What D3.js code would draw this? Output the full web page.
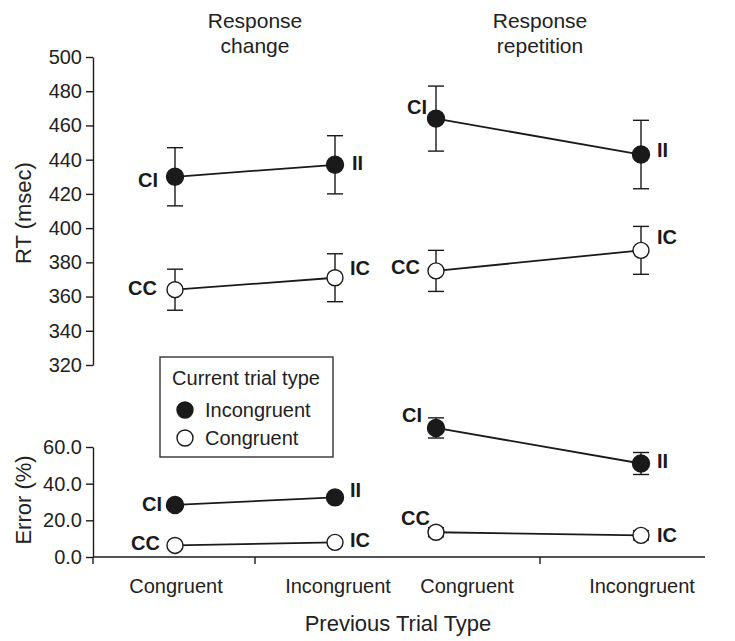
<!DOCTYPE html>
<html>
<head>
<meta charset="utf-8">
<script src="https://cdn.jsdelivr.net/npm/d3@7"></script>
<style>
  html, body { margin: 0; padding: 0; background: #fff; }
  svg { display: block; font-family: "Liberation Sans", Arial, Helvetica, sans-serif; }
</style>
</head>
<body>
<svg id="chart" width="735" height="641"></svg>
<script>
// ---------- DATA ----------
const previousTrialTypes = ["Congruent", "Incongruent"];
const panelTitles = [["Response", "change"], ["Response", "repetition"]];
const legendTitle = "Current trial type";
const legendLabels = ["Incongruent", "Congruent"];

const rtTicks = [320, 340, 360, 380, 400, 420, 440, 460, 480, 500];
const errTicks = [0, 20, 40, 60];

// RT (msec): current incongruent / congruent, per panel (change, repetition)
const rtChangeIncong   = [430, 437];
const rtChangeIncongSE = [17, 17];
const rtChangeCong     = [364, 371];
const rtChangeCongSE   = [12, 14];
const rtRepIncong      = [464, 443];
const rtRepIncongSE    = [19, 20];
const rtRepCong        = [375, 387];
const rtRepCongSE      = [12, 14];

// Error (%)
const errChangeIncong   = [28.4, 32.5];
const errChangeIncongSE = [1.5, 1.5];
const errChangeCong     = [6.3, 8.0];
const errChangeCongSE   = [1.0, 1.0];
const errRepIncong      = [70.4, 51.0];
const errRepIncongSE    = [5.5, 6.0];
const errRepCong        = [13.5, 11.8];
const errRepCongSE      = [2.5, 2.5];

const incongLabels = ["CI", "II"];
const congLabels   = ["CC", "IC"];

// ---------- LAYOUT ----------
const svg = d3.select("#chart");
const ink = "#1a1a1a";
const axisX = 93;

const yRT  = d3.scaleLinear().domain([320, 500]).range([365, 57]);
const yErr = d3.scaleLinear().domain([0, 60]).range([557, 447]);

const xPanels = [
  d3.scalePoint().domain(previousTrialTypes).range([175, 335]),
  d3.scalePoint().domain(previousTrialTypes).range([436, 641])
];
const xLabelPanels = [
  d3.scalePoint().domain(previousTrialTypes).range([176, 338]),
  d3.scalePoint().domain(previousTrialTypes).range([467, 642])
];
const panelMid = [255, 540];

// label placement (dx, dy, anchor) per panel/metric/series/point
const labelPlacement = {
  rt: [
    { inc: [[-17, 3, "end"], [17, -2, "start"]], con: [[-18, -2, "end"], [15, -10, "start"]] },
    { inc: [[-9, -12, "end"], [16, -5, "start"]], con: [[-16, -4, "end"], [16, -13, "start"]] }
  ],
  err: [
    { inc: [[-13, -1, "end"], [15, -7, "start"]], con: [[-15, -2, "end"], [15, -2, "start"]] },
    { inc: [[-14, -13, "end"], [16, -3, "start"]], con: [[-6, -14, "end"], [16, 0, "start"]] }
  ]
};

// ---------- AXES ----------
// RT axis
const gRT = svg.append("g").attr("transform", `translate(${axisX},0)`)
  .call(d3.axisLeft(yRT).tickValues(rtTicks).tickSize(7).tickPadding(4).tickSizeOuter(0));
// Error axis
const gErr = svg.append("g").attr("transform", `translate(${axisX},0)`)
  .call(d3.axisLeft(yErr).tickValues(errTicks).tickSize(7).tickPadding(4).tickSizeOuter(0)
    .tickFormat(d3.format(".1f")));
[gRT, gErr].forEach(g => {
  g.selectAll("path.domain").attr("stroke", ink).attr("stroke-width", 1.4);
  g.selectAll(".tick line").attr("stroke", ink).attr("stroke-width", 1.4);
  g.selectAll(".tick text").attr("fill", "#222").style("font-size", "20px");
});
// tick at error-axis bottom extends below baseline
svg.append("line").attr("x1", axisX).attr("x2", axisX)
  .attr("y1", yErr(0)).attr("y2", yErr(0) + 7).attr("stroke", ink).attr("stroke-width", 1.4);

// X axis baseline
svg.append("line").attr("x1", axisX).attr("x2", 705)
  .attr("y1", yErr(0)).attr("y2", yErr(0)).attr("stroke", ink).attr("stroke-width", 1.4);
panelMid.forEach(m => {
  svg.append("line").attr("x1", m).attr("x2", m)
    .attr("y1", yErr(0)).attr("y2", yErr(0) + 7).attr("stroke", ink).attr("stroke-width", 1.4);
});
xLabelPanels.forEach(xs => {
  svg.append("g").selectAll("text").data(previousTrialTypes).join("text")
    .attr("x", d => xs(d)).attr("y", 593)
    .attr("text-anchor", "middle").attr("fill", "#222")
    .style("font-size", "20px").text(d => d);
});
svg.append("text").attr("x", 398).attr("y", 631).attr("text-anchor", "middle")
  .attr("fill", "#222").style("font-size", "22px").text("Previous Trial Type");

// Y titles
svg.append("text").attr("transform", `translate(31,${(yRT(320)+yRT(500))/2 + 2}) rotate(-90)`)
  .attr("text-anchor", "middle").attr("fill", "#222").style("font-size", "22px").text("RT (msec)");
svg.append("text").attr("transform", `translate(31,500) rotate(-90)`)
  .attr("text-anchor", "middle").attr("fill", "#222").style("font-size", "22px").text("Error (%)");

// Panel titles
panelTitles.forEach((lines, i) => {
  svg.append("text").attr("x", panelMid[i]).attr("y", 28).attr("text-anchor", "middle")
    .attr("fill", "#222").style("font-size", "21px").text(lines[0]);
  svg.append("text").attr("x", panelMid[i]).attr("y", 53).attr("text-anchor", "middle")
    .attr("fill", "#222").style("font-size", "21px").text(lines[1]);
});

// ---------- SERIES ----------
const series = [
  { metric: "rt", panel: 0, kind: "inc", vals: rtChangeIncong, se: rtChangeIncongSE, labels: incongLabels, y: yRT },
  { metric: "rt", panel: 0, kind: "con", vals: rtChangeCong, se: rtChangeCongSE, labels: congLabels, y: yRT },
  { metric: "rt", panel: 1, kind: "inc", vals: rtRepIncong, se: rtRepIncongSE, labels: incongLabels, y: yRT },
  { metric: "rt", panel: 1, kind: "con", vals: rtRepCong, se: rtRepCongSE, labels: congLabels, y: yRT },
  { metric: "err", panel: 0, kind: "inc", vals: errChangeIncong, se: errChangeIncongSE, labels: incongLabels, y: yErr },
  { metric: "err", panel: 0, kind: "con", vals: errChangeCong, se: errChangeCongSE, labels: congLabels, y: yErr },
  { metric: "err", panel: 1, kind: "inc", vals: errRepIncong, se: errRepIncongSE, labels: incongLabels, y: yErr },
  { metric: "err", panel: 1, kind: "con", vals: errRepCong, se: errRepCongSE, labels: congLabels, y: yErr }
];

series.forEach(s => {
  const x = xPanels[s.panel];
  const pts = previousTrialTypes.map((c, i) => ({ c, v: s.vals[i], se: s.se[i], lab: s.labels[i], i }));
  const g = svg.append("g");
  // error bars
  pts.forEach(p => {
    const cx = x(p.c);
    g.append("line").attr("x1", cx).attr("x2", cx)
      .attr("y1", s.y(p.v + p.se)).attr("y2", s.y(p.v - p.se)).attr("stroke", ink).attr("stroke-width", 1.4);
    [p.v + p.se, p.v - p.se].forEach(e => {
      g.append("line").attr("x1", cx - 8).attr("x2", cx + 8)
        .attr("y1", s.y(e)).attr("y2", s.y(e)).attr("stroke", ink).attr("stroke-width", 1.4);
    });
  });
  // line
  g.append("path").datum(pts)
    .attr("d", d3.line().x(p => x(p.c)).y(p => s.y(p.v)))
    .attr("fill", "none").attr("stroke", ink).attr("stroke-width", 1.8);
  // markers
  g.selectAll("circle").data(pts).join("circle")
    .attr("cx", p => x(p.c)).attr("cy", p => s.y(p.v)).attr("r", s.kind === "inc" ? 8.5 : 8)
    .attr("fill", s.kind === "inc" ? ink : "#fff")
    .attr("stroke", ink).attr("stroke-width", 1.4);
  // point labels
  const place = labelPlacement[s.metric][s.panel][s.kind];
  g.selectAll("text").data(pts).join("text")
    .attr("x", p => x(p.c) + place[p.i][0])
    .attr("y", p => s.y(p.v) + place[p.i][1])
    .attr("dy", "0.35em")
    .attr("text-anchor", p => place[p.i][2])
    .attr("fill", ink).style("font-size", "20px").style("font-weight", "bold")
    .text(p => p.lab);
});

// ---------- LEGEND ----------
const lg = svg.append("g");
lg.append("rect").attr("x", 160).attr("y", 357).attr("width", 173).attr("height", 100)
  .attr("fill", "#fff").attr("stroke", "#333").attr("stroke-width", 1.4);
lg.append("text").attr("x", 246).attr("y", 385).attr("text-anchor", "middle")
  .attr("fill", "#222").style("font-size", "20px").text(legendTitle);
legendLabels.forEach((l, i) => {
  const cy = 410 + i * 28;
  lg.append("circle").attr("cx", 185).attr("cy", cy).attr("r", 8)
    .attr("fill", i === 0 ? ink : "#fff").attr("stroke", ink).attr("stroke-width", 1.4);
  lg.append("text").attr("x", 205).attr("y", cy).attr("dy", "0.35em")
    .attr("fill", "#222").style("font-size", "20px").text(l);
});
</script>
</body>
</html>
